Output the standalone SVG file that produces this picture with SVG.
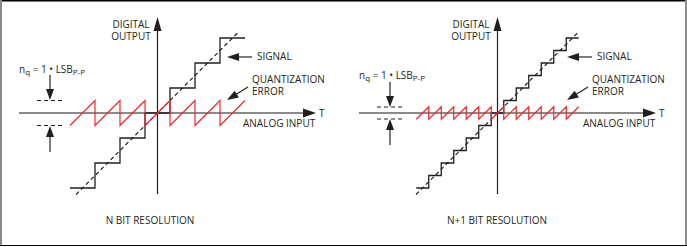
<svg xmlns="http://www.w3.org/2000/svg" width="687" height="247" viewBox="0 0 687 247">
<style>
text{font-family:"Open Sans","Noto Sans","Liberation Sans",sans-serif;font-size:10px;fill:#231f20}
.sub{font-size:8px}
.axh{stroke:#8a8a8a;stroke-width:2;fill:none}
.axv{stroke:#231f20;stroke-width:1.2;fill:none}
.ln{stroke:#231f20;stroke-width:1.2;fill:none}
.stair{stroke:#231f20;stroke-width:1.3;fill:none}
.dash{stroke:#231f20;stroke-width:1.2;fill:none;stroke-dasharray:4 3}
.err{stroke:#ee2a2e;stroke-width:1.2;fill:none}
.hd{fill:#231f20}
</style>
<rect x="0" y="0" width="687" height="247" fill="#fff"/>
<line x1="0" y1="0.7" x2="687" y2="0.7" stroke="#000" stroke-width="1.4"/>
<rect x="0" y="0" width="2" height="246" fill="#8a8a8a"/>
<rect x="685" y="0" width="2" height="246" fill="#8a8a8a"/>
<line x1="0" y1="245.5" x2="687" y2="245.5" stroke="#000" stroke-width="1.2"/>

<g id="panel1">
  <g id="axes1">
    <line class="axh" x1="19" y1="113" x2="304" y2="113"/>
    <polygon class="hd" points="316,113 303,108.5 303,117.5"/>
    <line class="axv" x1="157.5" y1="194" x2="157.5" y2="29"/>
    <polygon class="hd" points="157.5,17 153.5,31 161.5,31"/>
  </g>
  <g id="labels1">
    <text x="131" y="27.5" text-anchor="middle">DIGITAL</text>
    <text x="131" y="40" text-anchor="middle">OUTPUT</text>
    <text x="319" y="117">T</text>
    <text x="243" y="127">ANALOG INPUT</text>
    <text x="257" y="60">SIGNAL</text>
    <text x="252" y="82.5">QUANTIZATION</text>
    <text x="252" y="95">ERROR</text>
    <text x="150" y="224" text-anchor="middle">N BIT RESOLUTION</text>
    <text x="19" y="73">n<tspan class="sub" dy="2">q</tspan><tspan dy="-2"> = 1 • LSB</tspan><tspan class="sub" dy="1.5">P-P</tspan></text>
  </g>
  <g id="signal1">
    <polyline class="stair" points="70,188 95,188 95,163 120,163 120,138 145,138 145,113 170,113 170,88 195,88 195,63 220,63 220,38 245,38"/>
    <line class="dash" x1="76" y1="194.5" x2="239" y2="31.5"/>
  </g>
  <g id="error1">
    <polyline class="err" points="70,125.5 95,100.5 95,125.5 120,100.5 120,125.5 145,100.5 145,125.5 170,100.5 170,125.5 195,100.5 195,125.5 220,100.5 220,125.5 245,100.5"/>
  </g>
  <g id="lsb1">
    <line class="dash" x1="37" y1="100.5" x2="63" y2="100.5"/>
    <line class="dash" x1="37" y1="125.5" x2="63" y2="125.5"/>
    <line class="ln" x1="50" y1="75" x2="50" y2="90"/>
    <polygon class="hd" points="50,100 46,89 54,89"/>
    <line class="ln" x1="50" y1="152" x2="50" y2="136"/>
    <polygon class="hd" points="50,126 46,137 54,137"/>
  </g>
  <g id="callouts1">
    <line class="ln" x1="252" y1="57" x2="237" y2="57"/>
    <polygon class="hd" points="227,57 239,53 239,61"/>
    <line class="ln" x1="248" y1="87" x2="235" y2="95"/>
    <polygon class="hd" points="227,100 234.6,90.8 238.9,97.6"/>
  </g>
</g>

<g id="panel2">
  <g id="axes2">
    <line class="axh" x1="359" y1="113" x2="644" y2="113"/>
    <polygon class="hd" points="656,113 643,108.5 643,117.5"/>
    <line class="axv" x1="497.5" y1="194" x2="497.5" y2="29"/>
    <polygon class="hd" points="497.5,17 493.5,31 501.5,31"/>
  </g>
  <g id="labels2">
    <text x="471" y="27.5" text-anchor="middle">DIGITAL</text>
    <text x="471" y="40" text-anchor="middle">OUTPUT</text>
    <text x="659" y="117">T</text>
    <text x="583" y="127">ANALOG INPUT</text>
    <text x="597" y="60">SIGNAL</text>
    <text x="592" y="82.5">QUANTIZATION</text>
    <text x="592" y="95">ERROR</text>
    <text x="497" y="224" text-anchor="middle">N+1 BIT RESOLUTION</text>
    <text x="359" y="79">n<tspan class="sub" dy="2">q</tspan><tspan dy="-2"> = 1 • LSB</tspan><tspan class="sub" dy="1.5">P-P</tspan></text>
  </g>
  <g id="signal2">
    <polyline class="stair" points="416.25,188 428.75,188 428.75,175.5 441.25,175.5 441.25,163 453.75,163 453.75,150.5 466.25,150.5 466.25,138 478.75,138 478.75,125.5 491.25,125.5 491.25,113 503.75,113 503.75,100.5 516.25,100.5 516.25,88 528.75,88 528.75,75.5 541.25,75.5 541.25,63 553.75,63 553.75,50.5 566.25,50.5 566.25,38 578.75,38"/>
    <line class="dash" x1="416" y1="194.5" x2="579" y2="31.5"/>
  </g>
  <g id="error2">
    <polyline class="err" points="416.25,119.25 428.75,106.75 428.75,119.25 441.25,106.75 441.25,119.25 453.75,106.75 453.75,119.25 466.25,106.75 466.25,119.25 478.75,106.75 478.75,119.25 491.25,106.75 491.25,119.25 503.75,106.75 503.75,119.25 516.25,106.75 516.25,119.25 528.75,106.75 528.75,119.25 541.25,106.75 541.25,119.25 553.75,106.75 553.75,119.25 566.25,106.75 566.25,119.25 578.75,106.75"/>
  </g>
  <g id="lsb2">
    <line class="dash" x1="377" y1="107" x2="403" y2="107"/>
    <line class="dash" x1="377" y1="119" x2="403" y2="119"/>
    <line class="ln" x1="390" y1="82" x2="390" y2="97"/>
    <polygon class="hd" points="390,107 386,96 394,96"/>
    <line class="ln" x1="390" y1="145" x2="390" y2="129"/>
    <polygon class="hd" points="390,119 386,130 394,130"/>
  </g>
  <g id="callouts2">
    <line class="ln" x1="592" y1="57" x2="577" y2="57"/>
    <polygon class="hd" points="567,57 579,53 579,61"/>
    <line class="ln" x1="588" y1="87" x2="575" y2="95"/>
    <polygon class="hd" points="567,100 574.6,90.8 578.9,97.6"/>
  </g>
</g>
</svg>
